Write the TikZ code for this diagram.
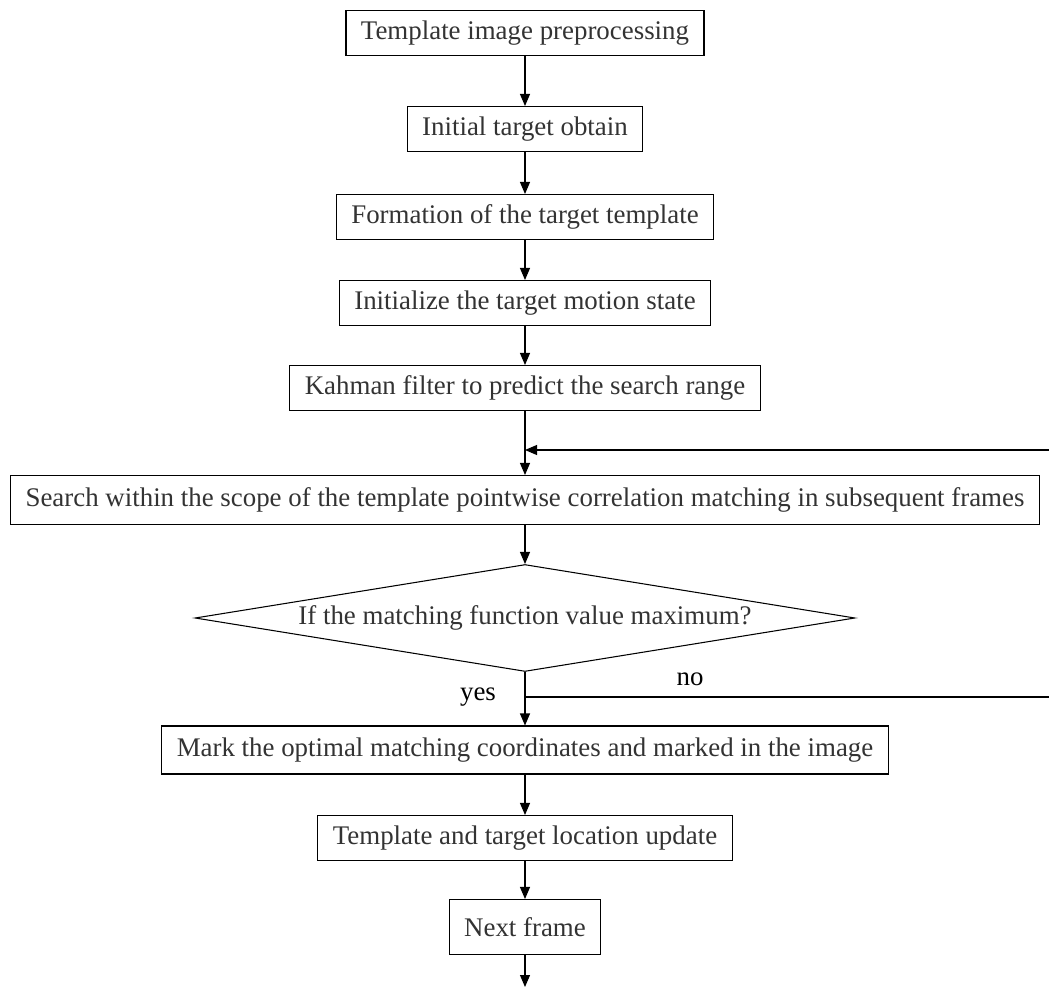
\documentclass[tikz,border=0pt]{standalone}
\usepackage{fontspec}
\setmainfont{Liberation Serif}
\usetikzlibrary{shapes.geometric}
\usetikzlibrary{arrows.meta}
\usetikzlibrary{positioning}

\begin{document}
\begin{tikzpicture}[x=0.02cm, y=-0.02cm, line width=0.6pt,
	>={Triangle[length=2.4mm,width=2mm]},
	stepbox/.style={draw,rectangle,fill=white,text=black!80,inner xsep=0.3cm,
		minimum height=0.9cm,font=\fontsize{15.3}{18}\selectfont},
	dcsn/.style={draw,diamond,aspect=6,inner sep=0pt,text=black!80,
		minimum width=13.2cm,minimum height=2.14cm,font=\fontsize{15.3}{18}\selectfont},
	lbl/.style={font=\fontsize{15.3}{18}\selectfont}]
	\useasboundingbox (0,0) rectangle (1049,990);
	\node[stepbox] (pre) at (525,33) {Template image preprocessing};
	\node[stepbox] (init) at (525,129) {Initial target obtain};
	\node[stepbox] (form) at (525,217) {Formation of the target template};
	\node[stepbox] (state) at (525,303) {Initialize the target motion state};
	\node[stepbox] (kal) at (525,388) {Kahman filter to predict the search range};
	\node[stepbox,minimum height=0.98cm] (srch) at (525,500) {Search within the scope of the template pointwise correlation matching in subsequent frames};
	\node[dcsn] (max) at (525,618) {If the matching function value maximum?};
	\node[stepbox,minimum height=0.96cm] (mark) at (525,750) {Mark the optimal matching coordinates and marked in the image};
	\node[stepbox] (upd) at (525,838) {Template and target location update};
	\node[stepbox,minimum height=1.1cm] (nxt) at (525,927) {Next frame};
	\coordinate (fbin) at (1049,450);
	\coordinate (fbout) at (1049,697);
	\coordinate (split) at (525,697);
	\coordinate (end) at (525,987);
	\draw[->] (pre) to (init);
	\draw[->] (init) to (form);
	\draw[->] (form) to (state);
	\draw[->] (state) to (kal);
	\draw[->] (kal) to (srch);
	\draw[->] (fbin) to (kal.south |- fbin);
	\draw[->] (srch) to (max);
	\draw[->] (max) to (mark);
	\draw (split) to (fbout);
	\node[lbl] (yes) at (478,697) {yes};
	\node[lbl] (no) at (690,679) {no};
	\draw[->] (mark) to (upd);
	\draw[->] (upd) to (nxt);
	\draw[->] (nxt) to (end);
\end{tikzpicture}
\end{document}
